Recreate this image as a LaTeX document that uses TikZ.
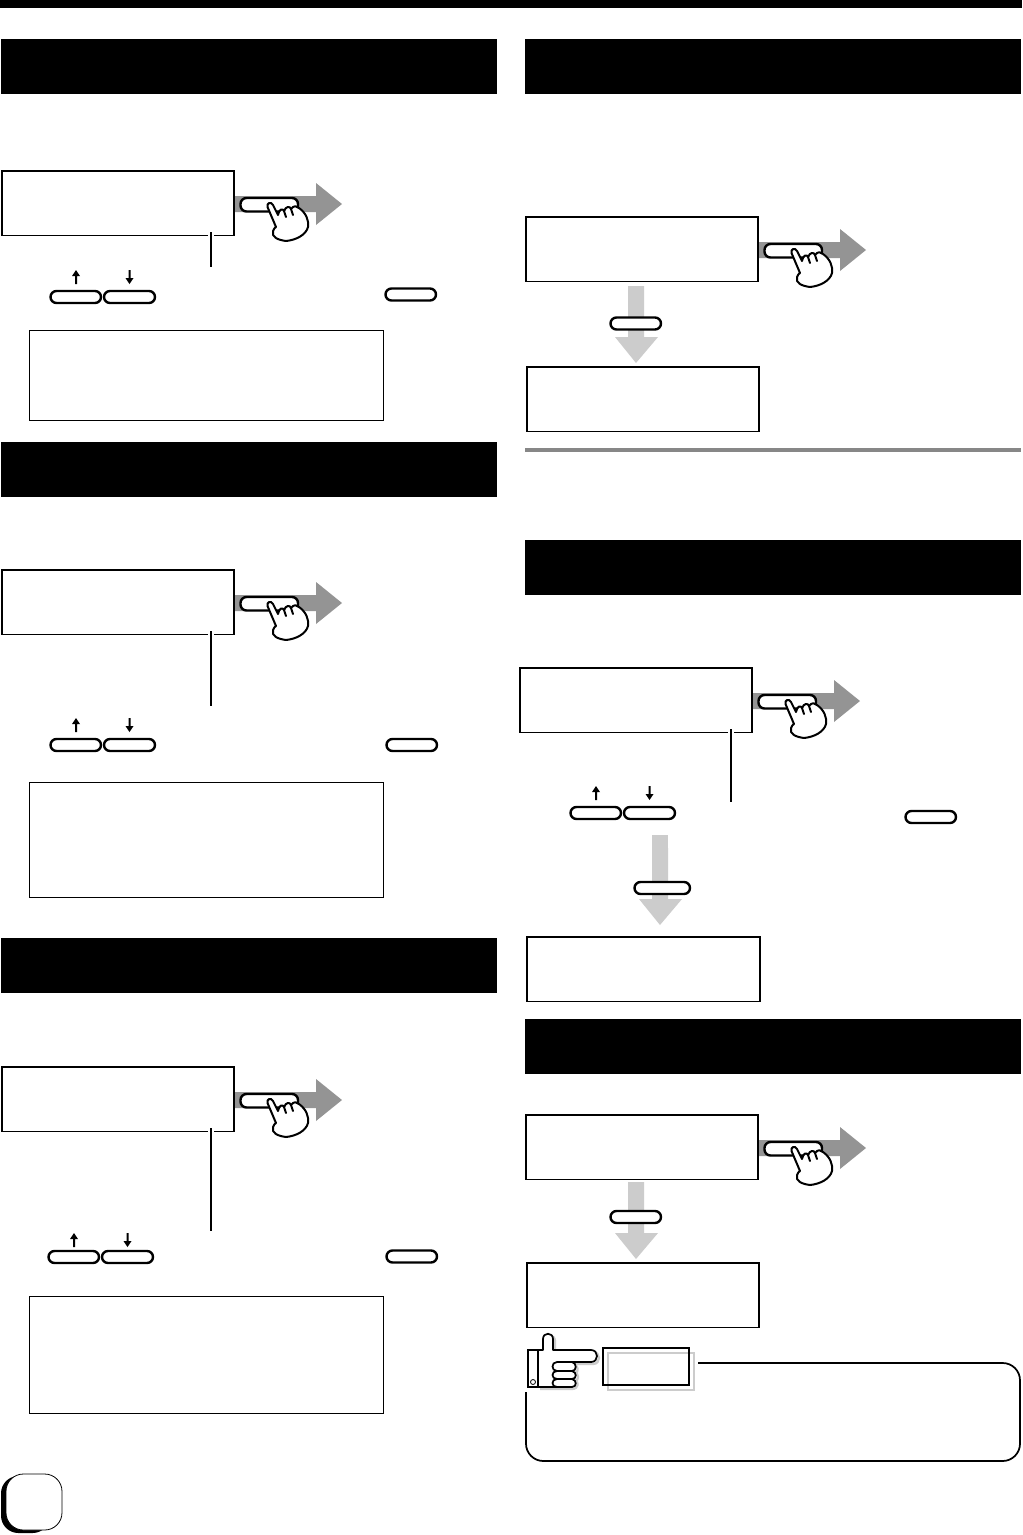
\documentclass[tikz,border=0pt]{standalone}
\tikzset{
  x=0.75pt,y=-0.75pt,
  header/.style={fill=black,draw=none},
  displaybox/.style={draw=black,line width=1.3pt,fill=white},
  thinbox/.style={draw=black,line width=0.7pt,fill=white},
  pillkey/.style={draw=black,line width=1.8pt,fill=white,rounded corners=4.5pt},
  leader/.style={draw=black,line width=1.6pt},
  halo/.style={draw=white,line width=5pt},
  darkarrow/.style={fill=black!42,draw=none},
  lightarrow/.style={fill=black!20,draw=none},
  handline/.style={draw=black,line width=1.5pt,fill=white,line join=round,line cap=round},
  fingerline/.style={draw=black,line width=1.5pt,line cap=round},
  tipfill/.style={fill=black,draw=none},
  pics/pressarrow/.style={code={
    \path[darkarrow] (1,26) -- (82,26) -- (82,13) -- (108,34) -- (82,55) -- (82,42) -- (1,42) -- cycle;
    \draw[pillkey] (6.5,28) rectangle (64,41.5);
    \draw[handline] (33.5,37) .. controls (32.5,33) and (37,31) .. (39,35)
      -- (44,45) .. controls (45,39) and (49,38) .. (50,41)
      .. controls (52,36) and (56,36) .. (57,39)
      .. controls (60,35) and (63,36) .. (65,38)
      .. controls (72,43) and (75,50) .. (74,57)
      .. controls (72,65) and (62,70) .. (52,71)
      .. controls (44,70) and (37,67) .. (39,61)
      .. controls (40,58) and (41,58) .. (42,57) -- cycle;
    \draw[fingerline] (50,41) -- (52,47);
    \draw[fingerline] (57,39) -- (59,45);
  }},
  pics/downarrow/.style={code={
    \path[lightarrow] (0,0) -- (16,0) -- (16,51) -- (30,51) -- (8,77) -- (-13,51) -- (0,51) -- cycle;
  }},
  pics/uparrowkey/.style={code={
    \path[tipfill] (-1,14) -- (1,14) -- (1,6) -- (4,6) -- (0,0) -- (-4,6) -- (-1,6) -- cycle;
  }},
  pics/dnarrowkey/.style={code={
    \path[tipfill] (-1,0) -- (1,0) -- (1,8) -- (4,8) -- (0,14) -- (-4,8) -- (-1,8) -- cycle;
  }},
}
\newcommand{\keypair}[3]{% x of first pill, y of pills, y of arrows
  \draw[pillkey] ({#1+0.5},#2) rectangle ++(50.5,12);
  \draw[pillkey] ({#1+54},#2) rectangle ++(51,12);
  \pic at ({#1+26},#3) {uparrowkey};
  \pic at ({#1+79.5},#3) {dnarrowkey};
}
\newcommand{\dispbox}[4]{\draw[displaybox] (#1,{#2+0.7}) rectangle (#3,{#4-0.5});}
\begin{document}
\begin{tikzpicture}
\useasboundingbox (0,0) rectangle (1022,1535);
\fill[white] (0,0) rectangle (1022,1535);
% top bar and headers
\path[header] (0,0) rectangle (1022,8);
\path[header] (1,39) rectangle (497,94);
\path[header] (1,442) rectangle (497,497);
\path[header] (1,938) rectangle (497,993);
\path[header] (525,39) rectangle (1021,94);
\path[header] (525,540) rectangle (1021,595);
\path[header] (525,1019) rectangle (1021,1074);
% grey rule
\fill[black!47] (525,448) rectangle (1021,452);
% press arrows
\pic at (234,170) {pressarrow};
\pic at (234,569) {pressarrow};
\pic at (234,1066) {pressarrow};
\pic at (758,216) {pressarrow};
\pic at (752,667) {pressarrow};
\pic at (758,1114) {pressarrow};
% down arrows
\pic at (628,286) {downarrow};
\pic at (652,848) {downarrow};
\pic at (628,1182) {downarrow};
\path[lightarrow] (652,835) rectangle (668,900);
% display boxes
\dispbox{2}{170}{234}{236}
\dispbox{2}{569}{234}{635}
\dispbox{2}{1066}{234}{1132}
\dispbox{526}{216}{758}{282}
\dispbox{527}{366}{759}{432}
\dispbox{520}{667}{752}{733}
\dispbox{527}{936}{760}{1002}
\dispbox{526}{1114}{758}{1180}
\dispbox{527}{1262}{759}{1328}
% thin boxes
\draw[thinbox] (29.5,330) rectangle (383,420);
\draw[thinbox] (29.5,782) rectangle (383,897);
\draw[thinbox] (29.5,1296) rectangle (383,1413);
% leaders
\foreach \xa/\ya/\yb/\yc in {211/232/236/267, 211/631/635/706, 211/1128/1132/1231, 731/729/733/802}{
  \draw[halo] (\xa,\ya) -- (\xa,\yb);
  \draw[leader] (\xa,\ya) -- (\xa,\yc);
}
% key pairs
\keypair{50}{291}{270}
\keypair{50}{739}{718}
\keypair{48}{1251}{1233}
\keypair{570}{807}{786}
% single keys
\draw[pillkey] (385.5,288.5) rectangle (436,300.5);
\draw[pillkey] (386.5,739) rectangle (437,751);
\draw[pillkey] (386.5,1250.5) rectangle (437,1262.5);
\draw[pillkey] (905.5,811) rectangle (956,823);
\draw[pillkey] (610.5,317.5) rectangle (661,329.5);
\draw[pillkey] (634.5,882) rectangle (690,894);
\draw[pillkey] (610.5,1211) rectangle (661,1223);
% note frame
\draw[line width=1.3pt,rounded corners=13pt] (526,1350) -- (526,1461) -- (1020,1461) -- (1020,1363) -- (698,1363);
% note tab with shadow
\fill[white] (524,1332) rectangle (600,1392);
\draw[black!20,line width=1.7pt] (608,1353) rectangle (694,1390);
\draw[black,line width=1.7pt] (603,1348) rectangle (689,1385);
% pointing hand shadow
\begin{scope}[shift={(2,2)}]
\draw[black!20,line width=1.7pt,line join=round] (538,1350) -- (543,1350) -- (543,1339) .. controls (543,1332) and (553,1332) .. (553,1339) -- (553,1350) -- (591,1350) .. controls (599,1350) and (599,1362) .. (591,1362) -- (570,1362) .. controls (577,1362) and (577,1371) .. (573,1371) .. controls (577,1371) and (577,1379) .. (573,1379) .. controls (577,1379) and (577,1387) .. (570,1387) -- (538,1387);
\end{scope}
% pointing hand
\draw[black,line width=1.3pt,fill=white,line join=round] (538,1350) -- (543,1350) -- (543,1339) .. controls (543,1332) and (553,1332) .. (553,1339) -- (553,1350) -- (591,1350) .. controls (599,1350) and (599,1362) .. (591,1362) -- (572,1362) .. controls (577,1363) and (577,1371) .. (572,1371) .. controls (577,1372) and (577,1379) .. (572,1379) .. controls (577,1380) and (577,1387) .. (572,1387) -- (538,1387) -- cycle;
\draw[black,line width=1.3pt] (572,1362) -- (557,1362) .. controls (551,1362) and (551,1371) .. (557,1371) -- (572,1371);
\draw[black,line width=1.3pt] (557,1371) .. controls (551,1371) and (551,1379) .. (557,1379) -- (572,1379);
\draw[black,line width=1.3pt] (557,1379) .. controls (551,1379) and (551,1387) .. (557,1387);
\draw[black,line width=1.6pt,fill=white] (528,1350) rectangle (538,1387);
\draw[black,line width=0.6pt,fill=white] (533,1382) circle (2.5);
% page badge
\fill[black,rounded corners=13pt] (1,1476) rectangle (50,1533);
\draw[black,line width=0.6pt,fill=white,rounded corners=13pt] (6,1474) rectangle (62,1530);
\end{tikzpicture}
\end{document}
